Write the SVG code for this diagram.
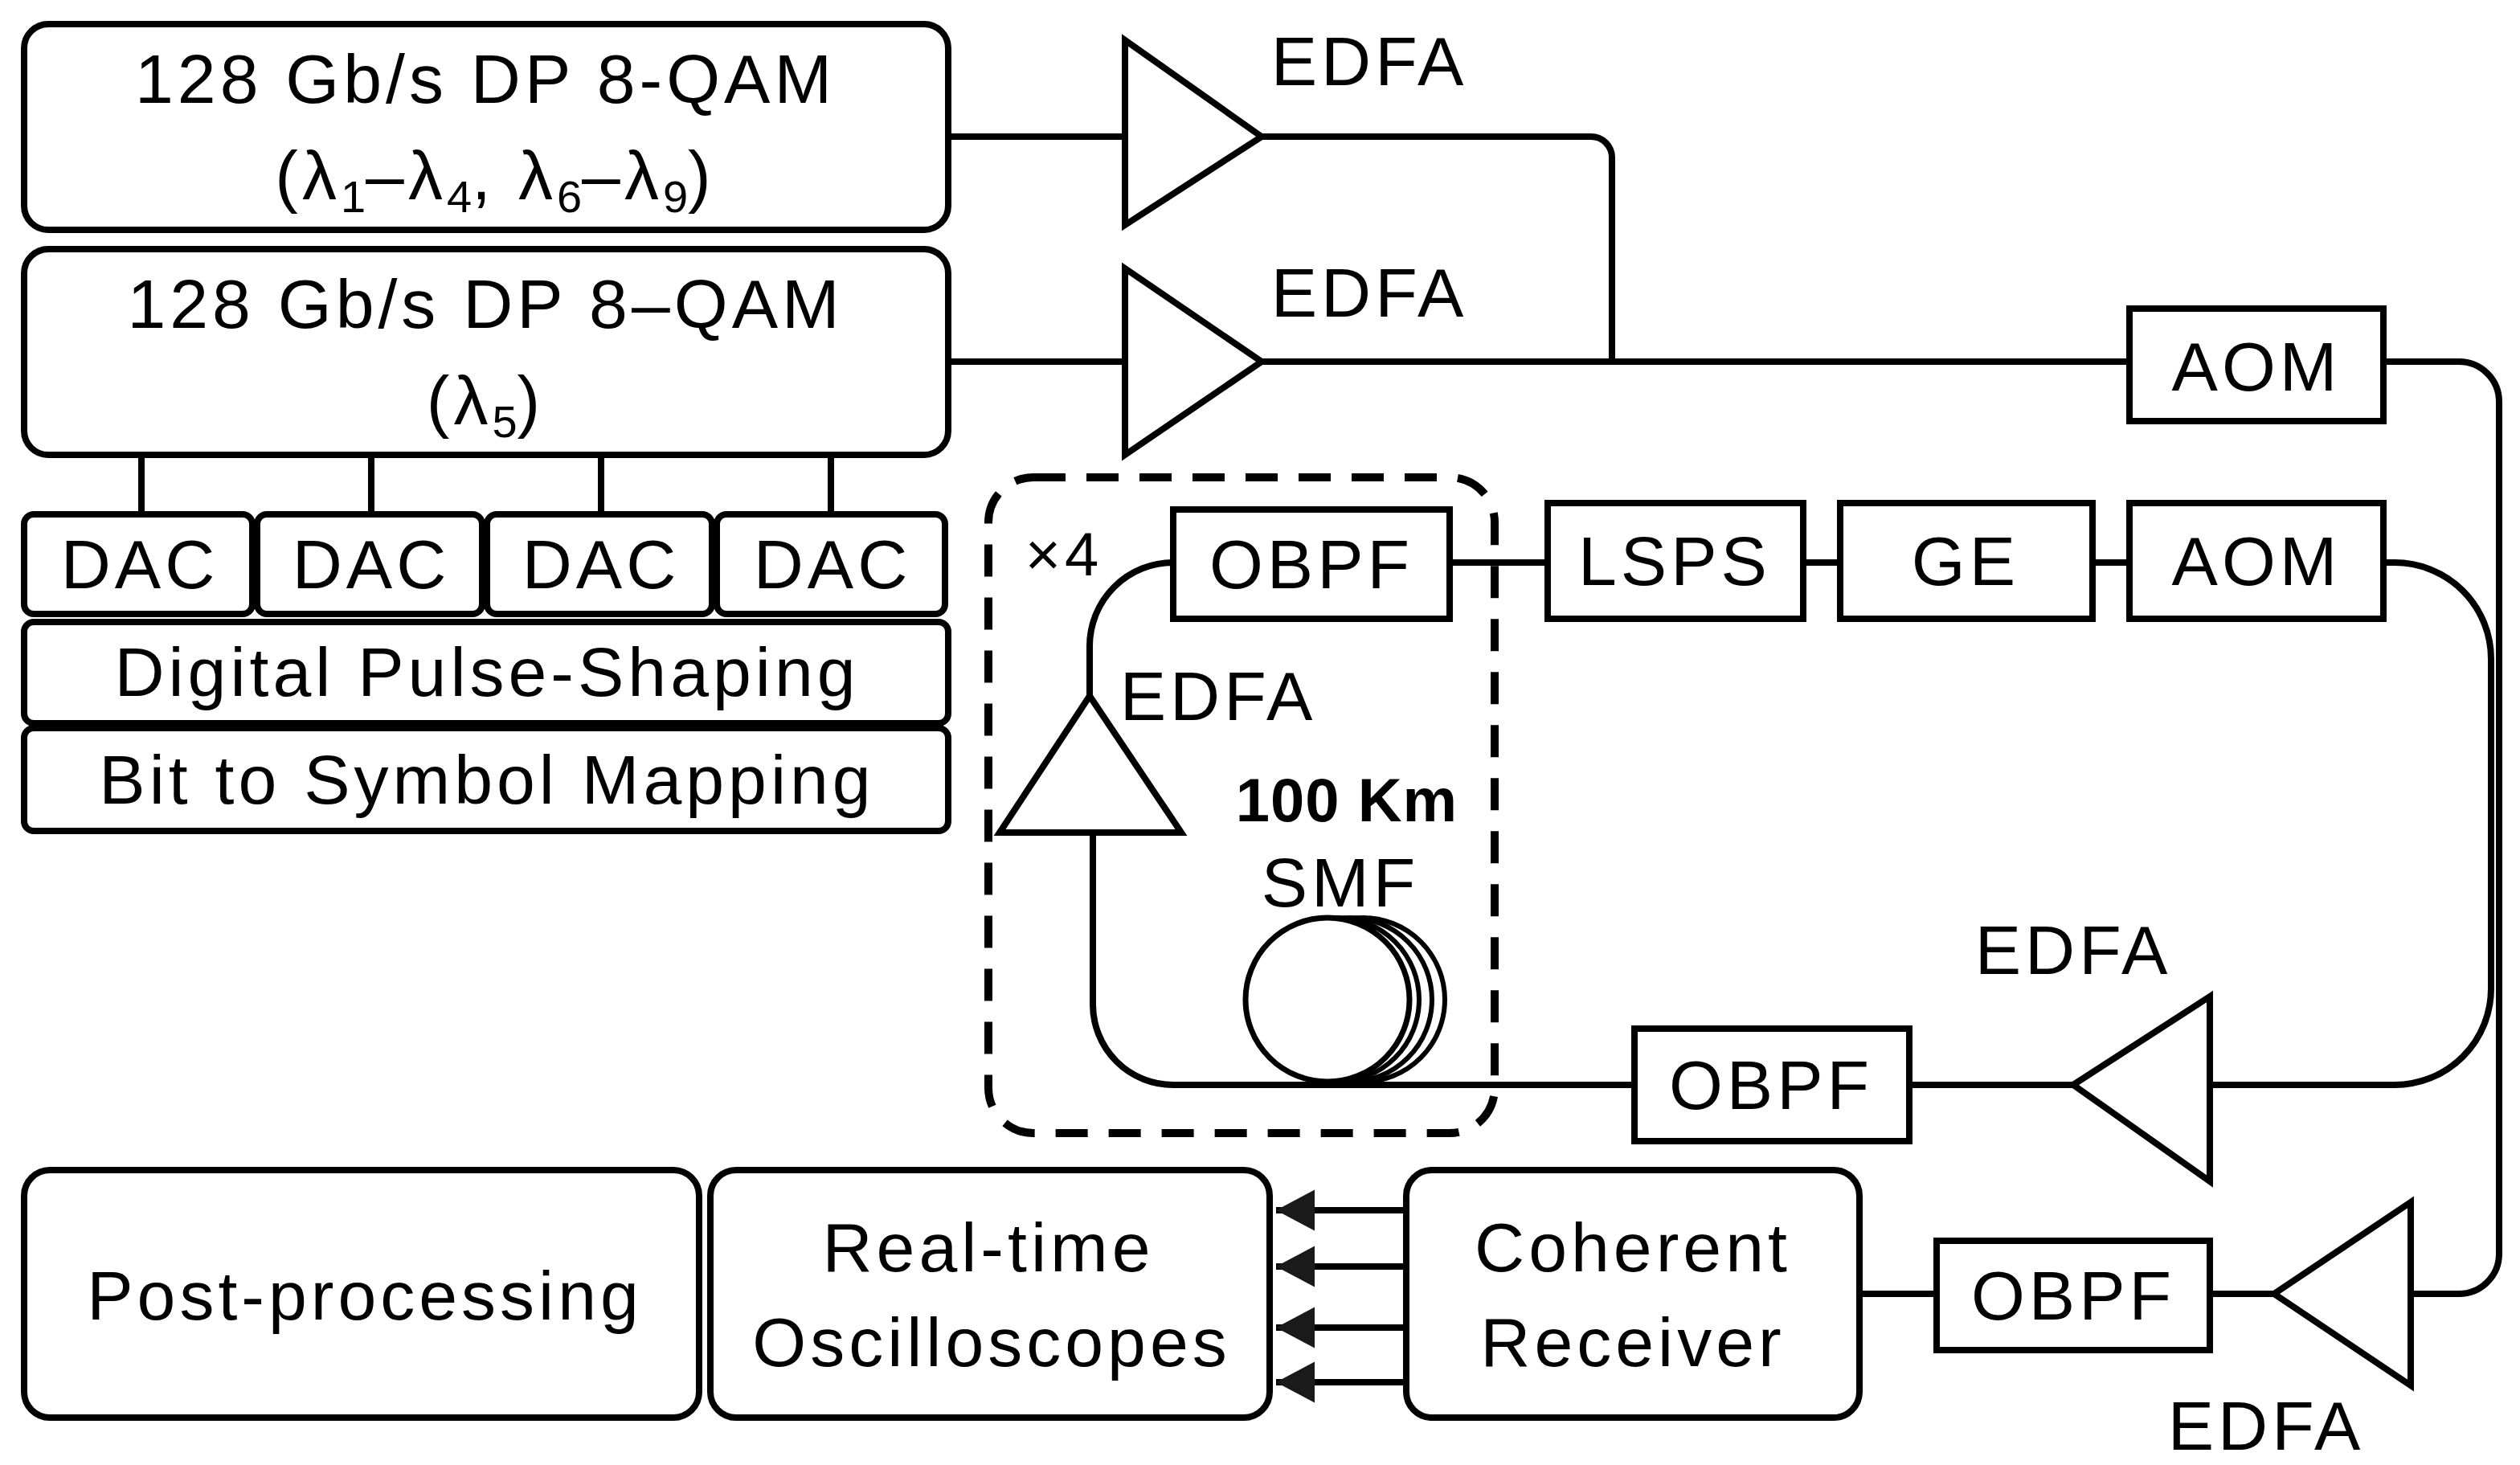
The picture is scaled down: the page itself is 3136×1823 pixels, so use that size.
<svg xmlns="http://www.w3.org/2000/svg" width="3136" height="1823" viewBox="0 0 3136 1823">
<style>
.b{fill:#fff;stroke:#000;stroke-width:4}
.l{fill:none;stroke:#000;stroke-width:4}
.t{font-family:"Liberation Sans",Arial,sans-serif;font-size:43px;letter-spacing:2.5px;fill:#000;text-anchor:middle}
.s{font-size:28px;letter-spacing:0}
</style>
<defs><marker id="ah" markerWidth="8" markerHeight="8" refX="6" refY="3.5" orient="auto" markerUnits="strokeWidth"><path d="M0,0.3 L6,3.5 L0,6.7 Z" fill="#1a1a1a"/></marker></defs>
<rect width="3136" height="1823" fill="#fff"/>
<g transform="scale(2)">
<g id="connectors">
<path class="l" d="M590,85 H700 M785,85 H990 A13 13 0 0 1 1003 98 V225"/>
<path class="l" d="M590,225 H700 M785,225 H1325"/>
<path class="l" d="M88,283 V320 M231,283 V320 M374,283 V320 M517,283 V320"/>
<path class="l" d="M1483,225 H1530 A25 25 0 0 1 1555 250 V780 A25 25 0 0 1 1530 805 H1500"/>
<path class="l" d="M1415,805 H1375 M1205,805 H1157"/>
<path class="l" d="M1483,350 H1490 A60 60 0 0 1 1550 410 V615 A60 60 0 0 1 1490 675 H1375"/>
<path class="l" d="M1290,675 H1188 M1017,675 H730 A50 50 0 0 1 680 625 V518"/>
<path class="l" d="M678,433 V402 A52 52 0 0 1 730 350"/>
<path class="l" d="M902,350 H963 M1122,350 H1145 M1302,350 H1325"/>
<g stroke="#000" stroke-width="4" marker-end="url(#ah)">
<line x1="875" y1="753" x2="794" y2="753"/>
<line x1="875" y1="788" x2="794" y2="788"/>
<line x1="875" y1="826" x2="794" y2="826"/>
<line x1="875" y1="860" x2="794" y2="860"/>
</g>
</g>
<g id="tx1"><rect class="b" x="15" y="15" width="575" height="128" rx="15"/>
<text class="t" x="302" y="64">128 Gb/s DP 8-QAM</text>
<text class="t" x="308" y="124">(λ<tspan class="s" dy="8">1</tspan><tspan dy="-8">–λ</tspan><tspan class="s" dy="8">4</tspan><tspan dy="-8">, λ</tspan><tspan class="s" dy="8">6</tspan><tspan dy="-8">–λ</tspan><tspan class="s" dy="8">9</tspan><tspan dy="-8">)</tspan></text></g>
<g id="tx2"><rect class="b" x="15" y="155" width="575" height="128" rx="15"/>
<text class="t" x="302" y="204">128 Gb/s DP 8–QAM</text>
<text class="t" x="302" y="264">(λ<tspan class="s" dy="8">5</tspan><tspan dy="-8">)</tspan></text></g>
<g id="dacs">
<rect class="b" x="15" y="320" width="142" height="62" rx="6"/><text class="t" x="87" y="366">DAC</text>
<rect class="b" x="160" y="320" width="140" height="62" rx="6"/><text class="t" x="231" y="366">DAC</text>
<rect class="b" x="303" y="320" width="140" height="62" rx="6"/><text class="t" x="374" y="366">DAC</text>
<rect class="b" x="446" y="320" width="142" height="62" rx="6"/><text class="t" x="518" y="366">DAC</text></g>
<g id="dps"><rect class="b" x="15" y="387" width="575" height="63" rx="6"/><text class="t" x="303" y="433">Digital Pulse-Shaping</text></g>
<g id="bsm"><rect class="b" x="15" y="453" width="575" height="64" rx="6"/><text class="t" x="303" y="500">Bit to Symbol Mapping</text></g>
<g id="edfa1"><polygon class="b" points="700,25 700,140 785,85"/><text class="t" x="852" y="53">EDFA</text></g>
<g id="edfa2"><polygon class="b" points="700,167 700,283 785,225"/><text class="t" x="852" y="197">EDFA</text></g>
<g id="aom1"><rect class="b" x="1325" y="192" width="158" height="70"/><text class="t" x="1404" y="243">AOM</text></g>
<g id="loop">
<rect x="615" y="297" width="315" height="408" rx="28" fill="none" stroke="#000" stroke-width="5" stroke-dasharray="20 13"/>
<text class="t" x="662" y="358" style="font-size:38px">×4</text></g>
<g id="obpf1"><rect class="b" x="730" y="317" width="172" height="68"/><text class="t" x="816" y="366">OBPF</text></g>
<g id="lsps"><rect class="b" x="963" y="313" width="159" height="72"/><text class="t" x="1042" y="364">LSPS</text></g>
<g id="ge"><rect class="b" x="1145" y="313" width="157" height="72"/><text class="t" x="1223" y="364">GE</text></g>
<g id="aom2"><rect class="b" x="1325" y="313" width="158" height="72"/><text class="t" x="1404" y="364">AOM</text></g>
<g id="edfa3"><polygon class="b" points="622,518 735,518 678,433"/><text class="t" x="758" y="448">EDFA</text></g>
<g id="smf">
<text class="t" x="838" y="511" style="font-weight:bold;font-size:38px;letter-spacing:0.5px">100 Km</text>
<text class="t" x="834" y="564">SMF</text>
<circle class="b" style="stroke-width:3" cx="848" cy="622" r="51"/>
<circle class="b" style="stroke-width:3" cx="840" cy="622" r="51"/>
<circle class="b" style="stroke-width:3" cx="832" cy="622" r="51"/>
<circle class="b" style="stroke-width:3.5" cx="826" cy="622" r="51"/></g>
<g id="obpf2"><rect class="b" x="1017" y="640" width="171" height="70"/><text class="t" x="1102" y="690">OBPF</text></g>
<g id="edfa4"><polygon class="b" points="1375,620 1375,735 1290,675"/><text class="t" x="1290" y="606">EDFA</text></g>
<g id="edfa5"><polygon class="b" points="1500,748 1500,862 1415,805"/><text class="t" x="1410" y="902">EDFA</text></g>
<g id="obpf3"><rect class="b" x="1205" y="772" width="170" height="68"/><text class="t" x="1290" y="821">OBPF</text></g>
<g id="rx"><rect class="b" x="875" y="728" width="282" height="154" rx="16"/><text class="t" x="1016" y="791">Coherent</text><text class="t" x="1016" y="850">Receiver</text></g>
<g id="osc"><rect class="b" x="442" y="728" width="348" height="154" rx="16"/><text class="t" x="615" y="791">Real-time</text><text class="t" x="617" y="850">Oscilloscopes</text></g>
<g id="post"><rect class="b" x="15" y="728" width="420" height="154" rx="16"/><text class="t" x="227" y="821">Post-processing</text></g>
</g>
</svg>
